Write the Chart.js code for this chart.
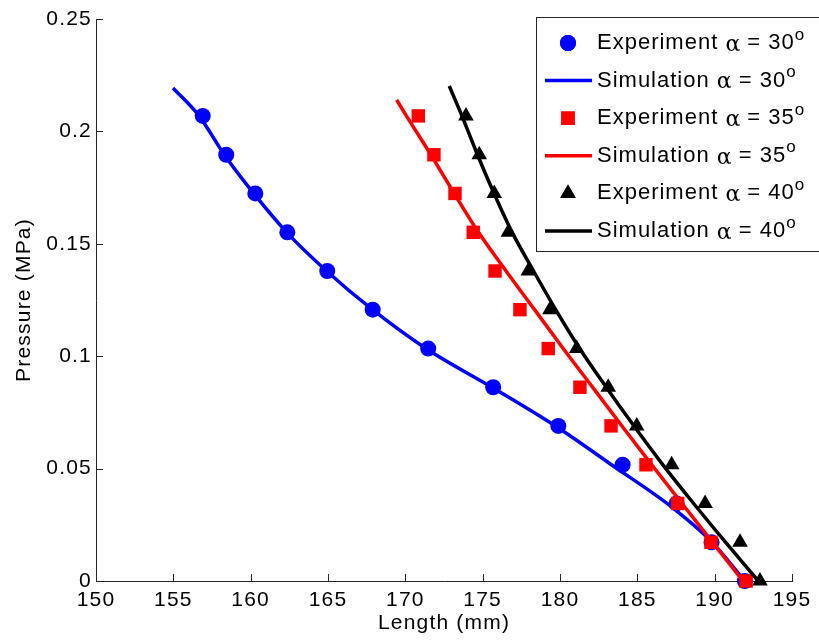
<!DOCTYPE html>
<html lang="en">
<head>
<meta charset="UTF-8">
<title>Pressure vs Length</title>
<script src="https://cdn.jsdelivr.net/npm/chart.js"></script>
<style>
  html, body { margin: 0; padding: 0; background: #fff; }
</style>
</head>
<body>
<canvas id="pressureChart" width="819" height="643"></canvas>
<script>
// measured pressure steps (MPa), top to bottom
const expPressure = [0.2069, 0.1896, 0.1724, 0.1551, 0.1379, 0.1207, 0.1034, 0.0862, 0.0690, 0.0517, 0.0345, 0.0172, 0];

// measured lengths (mm) for each alpha
const expLength30 = [156.90, 158.42, 160.30, 162.37, 164.95, 167.89, 171.48, 175.68, 179.89, 184.05, 187.54, 189.80, 191.95];
const expLength35 = [170.84, 171.85, 173.21, 174.39, 175.80, 177.41, 179.24, 181.29, 183.30, 185.56, 187.61, 189.76, 192.03];
const expLength40 = [173.92, 174.78, 175.75, 176.66, 177.95, 179.35, 181.08, 183.12, 184.96, 187.22, 189.38, 191.64, 192.93];

// simulated curves
const simLength30 = [154.98, 156.66, 158.32, 160.21, 162.33, 164.91, 167.84, 171.38, 175.64, 179.78, 183.35, 187.21, 189.80, 191.95];
const simPressure30 = [0.2193, 0.2069, 0.1894, 0.1723, 0.1551, 0.1379, 0.1209, 0.1032, 0.0860, 0.0686, 0.0516, 0.0330, 0.0175, 0];
const simLength35 = [169.44, 170.07, 171.66, 173.15, 174.63, 176.51, 178.38, 180.23, 182.13, 184.04, 185.91, 187.85, 189.83, 191.83];
const simPressure35 = [0.2140, 0.2069, 0.1895, 0.1725, 0.1561, 0.1379, 0.1205, 0.1032, 0.0860, 0.0686, 0.0519, 0.0348, 0.0175, 0];
const simLength40 = [172.84, 173.66, 174.67, 175.73, 176.90, 178.29, 179.74, 181.29, 183.01, 184.82, 186.63, 188.60, 190.67, 192.82];
const simPressure40 = [0.2202, 0.2069, 0.1895, 0.1725, 0.1552, 0.1379, 0.1205, 0.1032, 0.0860, 0.0686, 0.0519, 0.0348, 0.0175, 0];

// axis ticks
const xTickValues = [150, 155, 160, 165, 170, 175, 180, 185, 190, 195];
const xTickLabels = ['150', '155', '160', '165', '170', '175', '180', '185', '190', '195'];
const yTickValues = [0, 0.05, 0.1, 0.15, 0.2, 0.25];
const yTickLabels = ['0', '0.05', '0.1', '0.15', '0.2', '0.25'];

const FONT = "'Liberation Sans', Arial, sans-serif";
const axisColor = '#262626';

function toPoints(xs, ys) {
    return xs.map((x, i) => ({ x: x, y: ys[i] }));
}

function expSet(label, xs, color, style, radius) {
    return {
        label: label,
        data: toPoints(xs, expPressure),
        showLine: false,
        pointStyle: style,
        pointRadius: radius,
        pointBackgroundColor: color,
        pointBorderColor: color,
        pointBorderWidth: 0,
        borderColor: color,
        backgroundColor: color,
        clip: false
    };
}

function simSet(label, xs, ys, color) {
    return {
        label: label,
        data: toPoints(xs, ys),
        showLine: true,
        pointRadius: 0,
        borderColor: color,
        backgroundColor: color,
        borderWidth: 3.5,
        cubicInterpolationMode: 'monotone',
        clip: false
    };
}

const datasets = [
    expSet('Experiment α = 30°', expLength30, '#0000ff', 'circle', 8),
    simSet('Simulation α = 30°', simLength30, simPressure30, '#0000ff'),
    expSet('Experiment α = 35°', expLength35, '#ff0000', 'rect', 9.5),
    simSet('Simulation α = 35°', simLength35, simPressure35, '#ff0000'),
    expSet('Experiment α = 40°', expLength40, '#000000', 'triangle', 9),
    simSet('Simulation α = 40°', simLength40, simPressure40, '#000000')
];
// later series are painted on top
datasets.forEach((d, i) => { d.order = datasets.length - i; });

// slightly wider text, like the original figure font
const wideText = {
    id: 'wideText',
    beforeDraw(chart) {
        chart.ctx.letterSpacing = '1.2px';
    }
};

// tick marks drawn inside the plot area
const inwardTicks = {
    id: 'inwardTicks',
    afterDatasetsDraw(chart) {
        const { ctx, chartArea, scales: { x, y } } = chart;
        ctx.save();
        ctx.strokeStyle = axisColor;
        ctx.lineWidth = 1;
        ctx.beginPath();
        x.ticks.forEach(t => {
            const px = Math.round(x.getPixelForValue(t.value)) + 0.5;
            ctx.moveTo(px, chartArea.bottom);
            ctx.lineTo(px, chartArea.bottom - 7);
        });
        y.ticks.forEach(t => {
            const py = Math.round(y.getPixelForValue(t.value)) + 0.5;
            ctx.moveTo(chartArea.left, py);
            ctx.lineTo(chartArea.left + 7, py);
        });
        ctx.stroke();
        ctx.restore();
    }
};

// boxed legend in the top right corner, with superscript degree
const boxLegend = {
    id: 'boxLegend',
    afterDraw(chart) {
        const ctx = chart.ctx;
        const boxX = 536, boxY = 17, boxW = 300, boxH = 234;
        ctx.save();
        ctx.fillStyle = '#fff';
        ctx.fillRect(boxX, boxY, boxW, boxH);
        ctx.strokeStyle = axisColor;
        ctx.lineWidth = 1;
        ctx.strokeRect(boxX + 0.5, boxY + 0.5, boxW, boxH);

        chart.data.datasets.forEach((ds, i) => {
            const cy = 43 + i * 37.6;
            if (ds.showLine) {
                ctx.strokeStyle = ds.borderColor;
                ctx.lineWidth = ds.borderWidth;
                ctx.beginPath();
                ctx.moveTo(545, cy);
                ctx.lineTo(592, cy);
                ctx.stroke();
            } else {
                ctx.fillStyle = ds.pointBackgroundColor;
                Chart.helpers.drawPoint(ctx, {
                    pointStyle: ds.pointStyle,
                    radius: ds.pointRadius,
                    borderWidth: 0
                }, 568, cy);
                ctx.fill();
            }

            // label: name, alpha, value, raised "o"
            const parts = ds.label.split('α');
            const rest = parts[1].replace('°', '');
            let tx = 597;
            ctx.fillStyle = '#000';
            ctx.textBaseline = 'middle';
            ctx.textAlign = 'left';
            ctx.letterSpacing = '1px';
            ctx.font = '22px ' + FONT;
            ctx.fillText(parts[0], tx, cy);
            tx += ctx.measureText(parts[0]).width;
            ctx.letterSpacing = '0px';
            ctx.font = "22px 'DejaVu Serif', serif";
            ctx.fillText('α', tx, cy + 2);
            tx += ctx.measureText('α').width;
            ctx.letterSpacing = '1px';
            ctx.font = '22px ' + FONT;
            ctx.fillText(rest, tx, cy);
            tx += ctx.measureText(rest).width;
            ctx.letterSpacing = '0px';
            ctx.font = '17px ' + FONT;
            ctx.fillText('o', tx, cy - 8);
        });
        ctx.restore();
    }
};

new Chart(document.getElementById('pressureChart'), {
    type: 'scatter',
    data: { datasets: datasets },
    plugins: [wideText, inwardTicks, boxLegend],
    options: {
        responsive: false,
        animation: false,
        devicePixelRatio: 1,
        layout: { padding: { top: 19, right: 27, left: 0, bottom: 0 } },
        plugins: {
            legend: { display: false },
            tooltip: { enabled: false }
        },
        scales: {
            x: {
                type: 'linear',
                min: 150,
                max: 195,
                afterBuildTicks: s => { s.ticks = xTickValues.map(v => ({ value: v })); },
                afterFit: s => { s.height = 62; },
                grid: { display: false, drawTicks: false },
                border: { display: true, color: axisColor, width: 1 },
                ticks: {
                    color: '#000',
                    font: { size: 21, family: FONT },
                    padding: 7,
                    maxRotation: 0,
                    autoSkip: false,
                    callback: (v, i) => xTickLabels[i]
                },
                title: {
                    display: true,
                    text: 'Length (mm)',
                    color: '#000',
                    font: { size: 21, family: FONT },
                    padding: { top: 0, bottom: 7 }
                }
            },
            y: {
                type: 'linear',
                min: 0,
                max: 0.25,
                afterBuildTicks: s => { s.ticks = yTickValues.map(v => ({ value: v })); },
                afterFit: s => { s.width = 96; },
                grid: { display: false, drawTicks: false },
                border: { display: true, color: axisColor, width: 1 },
                ticks: {
                    color: '#000',
                    font: { size: 21, family: FONT },
                    padding: 4,
                    autoSkip: false,
                    callback: (v, i) => yTickLabels[i]
                },
                title: {
                    display: true,
                    text: 'Pressure (MPa)',
                    color: '#000',
                    font: { size: 21, family: FONT },
                    padding: { top: 12, bottom: 0 }
                }
            }
        }
    }
});
</script>
</body>
</html>
